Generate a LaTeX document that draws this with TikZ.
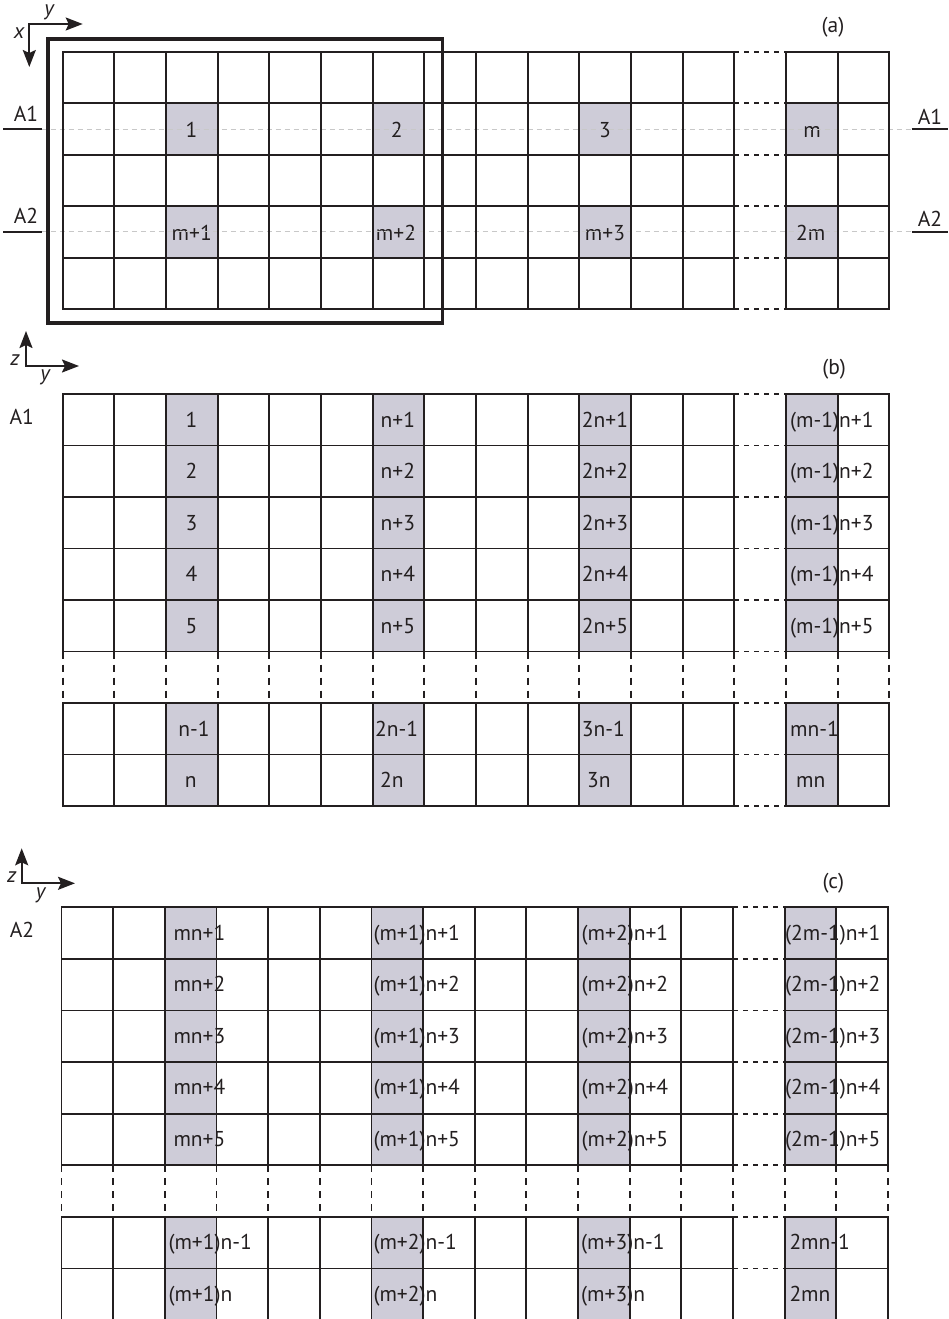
\documentclass[tikz,border=0pt]{standalone}
\usepackage{fontspec}
\setmainfont{PT Sans}
\usetikzlibrary{arrows.meta}
\definecolor{ink}{RGB}{35,31,32}
\definecolor{cellfill}{RGB}{206,204,216}
\definecolor{cutgray}{RGB}{200,200,200}
\tikzset{
  gridline/.style={draw=ink, line width=1.9pt, line cap=rect},
  gapline/.style={draw=ink, line width=1.9pt, dash pattern=on 5pt off 5pt},
  gapvline/.style={draw=ink, line width=1.9pt, dash pattern=on 7pt off 6pt},
  shadecell/.style={fill=cellfill},
  lbl/.style={font=\fontsize{21.5}{25}\selectfont, text=ink, inner sep=0pt},
  axlbl/.style={font=\fontsize{21.5}{25}\selectfont\itshape, text=ink, inner sep=0pt},
  axisarrows/.style={draw=ink, line width=2pt,
    {Stealth[length=17pt,width=13pt,inset=3pt]}-{Stealth[length=17pt,width=13pt,inset=3pt]}},
  frame/.style={draw=ink, line width=3.6pt},
  cutline/.style={draw=cutgray, line width=1.5pt, dash pattern=on 5pt off 4pt},
  tick/.style={draw=ink, line width=1.9pt}
}
\begin{document}
\begin{tikzpicture}[x=1pt,y=-1pt]
\useasboundingbox (0,0) rectangle (949,1319);
\clip (0,0) rectangle (949,1319);
\def\w{51.66}
\def\xa{62.7}
\def\xc{61.5}

%% ================= panel (a) =================
\foreach \c in {2,6,10,14}
  \foreach \r in {1,3}
    \fill[shadecell] ({\xa+\c*\w},{51.7+\r*51.52}) rectangle ++(\w,51.52);

\node[lbl,anchor=base] (a1) at (191.5,137) {1};
\node[lbl,anchor=base] (a2) at (396.7,137) {2};
\node[lbl,anchor=base] (a3) at (605,137) {3};
\node[lbl,anchor=base] (am) at (812,137) {m};
\node[lbl,anchor=base] (am1) at (191.7,240) {m+1};
\node[lbl,anchor=base] (am2) at (396,240) {m+2};
\node[lbl,anchor=base] (am3) at (605,240) {m+3};
\node[lbl,anchor=base] (a2m) at (810.7,240) {2m};

% section lines A1, A2
\coordinate (A1l0) at (3.3,129.3);  \coordinate (A1l1) at (41.7,129.3);
\coordinate (A1r0) at (911.7,129.3); \coordinate (A1r1) at (948,129.3);
\coordinate (A2l0) at (3.3,231.7);  \coordinate (A2l1) at (41.7,231.7);
\coordinate (A2r0) at (911.7,231.7); \coordinate (A2r1) at (948,231.7);
\draw[cutline] (A1l1) -- (A1r0);
\draw[cutline] (A2l1) -- (A2r0);
\draw[tick] (A1l0) -- (A1l1);
\draw[tick] (A1r0) -- (A1r1);
\draw[tick] (A2l0) -- (A2l1);
\draw[tick] (A2r0) -- (A2r1);
\node[lbl] (tA1l) at (26,114) {A1};
\node[lbl] (tA1r) at (930,117) {A1};
\node[lbl] (tA2l) at (26,216.3) {A2};
\node[lbl] (tA2r) at (930,219) {A2};

% grid (a)
\foreach \i in {0,...,16}
  \draw[gridline] ({\xa+\i*\w},51.7) -- ({\xa+\i*\w},309.3);
\foreach \j in {0,...,5}{
  \draw[gridline] (\xa,{51.7+\j*51.52}) -- ({\xa+13*\w},{51.7+\j*51.52});
  \draw[gapline] ({\xa+13*\w},{51.7+\j*51.52}) -- ({\xa+14*\w},{51.7+\j*51.52});
  \draw[gridline] ({\xa+14*\w},{51.7+\j*51.52}) -- ({\xa+16*\w},{51.7+\j*51.52});
}
\draw[frame] (47.7,39.3) rectangle (442.5,322.7);

% axes (a)
\coordinate (oa) at (29.3,24);
\coordinate (ya) at (82.7,24);
\coordinate (xa) at (29.3,67);
\draw[axisarrows] (ya) -- (oa) -- (xa);
\node[axlbl] (tya) at (49,12) {y};
\node[axlbl] (txa) at (19,33) {x};
\node[lbl] (capa) at (833,27) {(a)};

%% ================= panel (b) =================
\foreach \c in {2,6,10,14}{
  \fill[shadecell] ({\xa+\c*\w},394) rectangle ++(\w,257.5);
  \fill[shadecell] ({\xa+\c*\w},703) rectangle ++(\w,103);
}
\foreach \r in {1,...,5}{
  \node[lbl,anchor=base] (bA\r) at (191.5,{427+(\r-1)*51.5}) {\r};
  \node[lbl,anchor=base] (bB\r) at (397.8,{427+(\r-1)*51.5}) {n+\r};
  \node[lbl,anchor=base] (bC\r) at (605,{427+(\r-1)*51.5}) {2n+\r};
  \node[lbl,anchor=base west] (bD\r) at (790,{427+(\r-1)*51.5}) {(m-1)n+\r};
}
\node[lbl,anchor=base] (bAn1) at (194,736.5) {n-1};
\node[lbl,anchor=base] (bAn) at (190.7,787.5) {n};
\node[lbl,anchor=base west] (bBn1) at (375,736.5) {2n-1};
\node[lbl,anchor=base west] (bBn) at (380,787.5) {2n};
\node[lbl,anchor=base west] (bCn1) at (581.7,736.5) {3n-1};
\node[lbl,anchor=base west] (bCn) at (587,787.5) {3n};
\node[lbl,anchor=base west] (bDn1) at (790,736.5) {mn-1};
\node[lbl,anchor=base west] (bDn) at (796,787.5) {mn};

% grid (b)
\foreach \i in {0,...,16}{
  \draw[gridline] ({\xa+\i*\w},394) -- ({\xa+\i*\w},651.5);
  \draw[gapvline] ({\xa+\i*\w},651.5) -- ({\xa+\i*\w},703);
  \draw[gridline] ({\xa+\i*\w},703) -- ({\xa+\i*\w},806);
}
\foreach \y in {394,445.5,497,548.5,600,651.5,703,754.5,806}{
  \draw[gridline] (\xa,\y) -- ({\xa+13*\w},\y);
  \draw[gapline] ({\xa+13*\w},\y) -- ({\xa+14*\w},\y);
  \draw[gridline] ({\xa+14*\w},\y) -- ({\xa+16*\w},\y);
}
\node[lbl] (tA1b) at (21.7,417.3) {A1};

% axes (b)
\coordinate (ob) at (26,366);
\coordinate (yb) at (79,366);
\coordinate (zb) at (26,331);
\draw[axisarrows] (zb) -- (ob) -- (yb);
\node[axlbl] (tzb) at (15,360) {z};
\node[axlbl] (tyb) at (45,377) {y};
\node[lbl] (capb) at (834,369) {(b)};

%% ================= panel (c) =================
\foreach \c in {2,6,10,14}{
  \fill[shadecell] ({\xc+\c*\w},907.3) rectangle ++(\w,258);
  \fill[shadecell] ({\xc+\c*\w},1216.9) rectangle ++(\w,110);
}
\foreach \r in {1,...,5}{
  \node[lbl,anchor=base west] (cA\r) at (173.3,{940+(\r-1)*51.6}) {mn+\r};
  \node[lbl,anchor=base west] (cB\r) at (373.3,{940+(\r-1)*51.6}) {(m+1)n+\r};
  \node[lbl,anchor=base west] (cC\r) at (581.5,{940+(\r-1)*51.6}) {(m+2)n+\r};
  \node[lbl,anchor=base west] (cD\r) at (785,{940+(\r-1)*51.6}) {(2m-1)n+\r};
}
\node[lbl,anchor=base west] (cAn1) at (168.3,1249.5) {(m+1)n-1};
\node[lbl,anchor=base west] (cAn) at (168.3,1301.1) {(m+1)n};
\node[lbl,anchor=base west] (cBn1) at (373.3,1249.5) {(m+2)n-1};
\node[lbl,anchor=base west] (cBn) at (373.3,1301.1) {(m+2)n};
\node[lbl,anchor=base west] (cCn1) at (581,1249.5) {(m+3)n-1};
\node[lbl,anchor=base west] (cCn) at (581,1301.1) {(m+3)n};
\node[lbl,anchor=base west] (cDn1) at (789.3,1249.5) {2mn-1};
\node[lbl,anchor=base west] (cDn) at (789.3,1301.1) {2mn};

% grid (c)
\foreach \i in {0,...,16}{
  \draw[gridline] ({\xc+\i*\w},907.3) -- ({\xc+\i*\w},1165.3);
  \draw[gapvline] ({\xc+\i*\w},1165.3) -- ({\xc+\i*\w},1216.9);
  \draw[gridline] ({\xc+\i*\w},1216.9) -- ({\xc+\i*\w},1330);
}
\foreach \y in {907.3,958.9,1010.5,1062.1,1113.7,1165.3,1216.9,1268.5}{
  \draw[gridline] (\xc,\y) -- ({\xc+13*\w},\y);
  \draw[gapline] ({\xc+13*\w},\y) -- ({\xc+14*\w},\y);
  \draw[gridline] ({\xc+14*\w},\y) -- ({\xc+16*\w},\y);
}
\node[lbl] (tA2c) at (22,930) {A2};

% axes (c)
\coordinate (oc) at (21.7,883.3);
\coordinate (yc) at (75,883.3);
\coordinate (zc) at (21.7,848.3);
\draw[axisarrows] (zc) -- (oc) -- (yc);
\node[axlbl] (tzc) at (11.7,876.7) {z};
\node[axlbl] (tyc) at (40.7,895) {y};
\node[lbl] (capc) at (833.3,883.3) {(c)};
\end{tikzpicture}
\end{document}
